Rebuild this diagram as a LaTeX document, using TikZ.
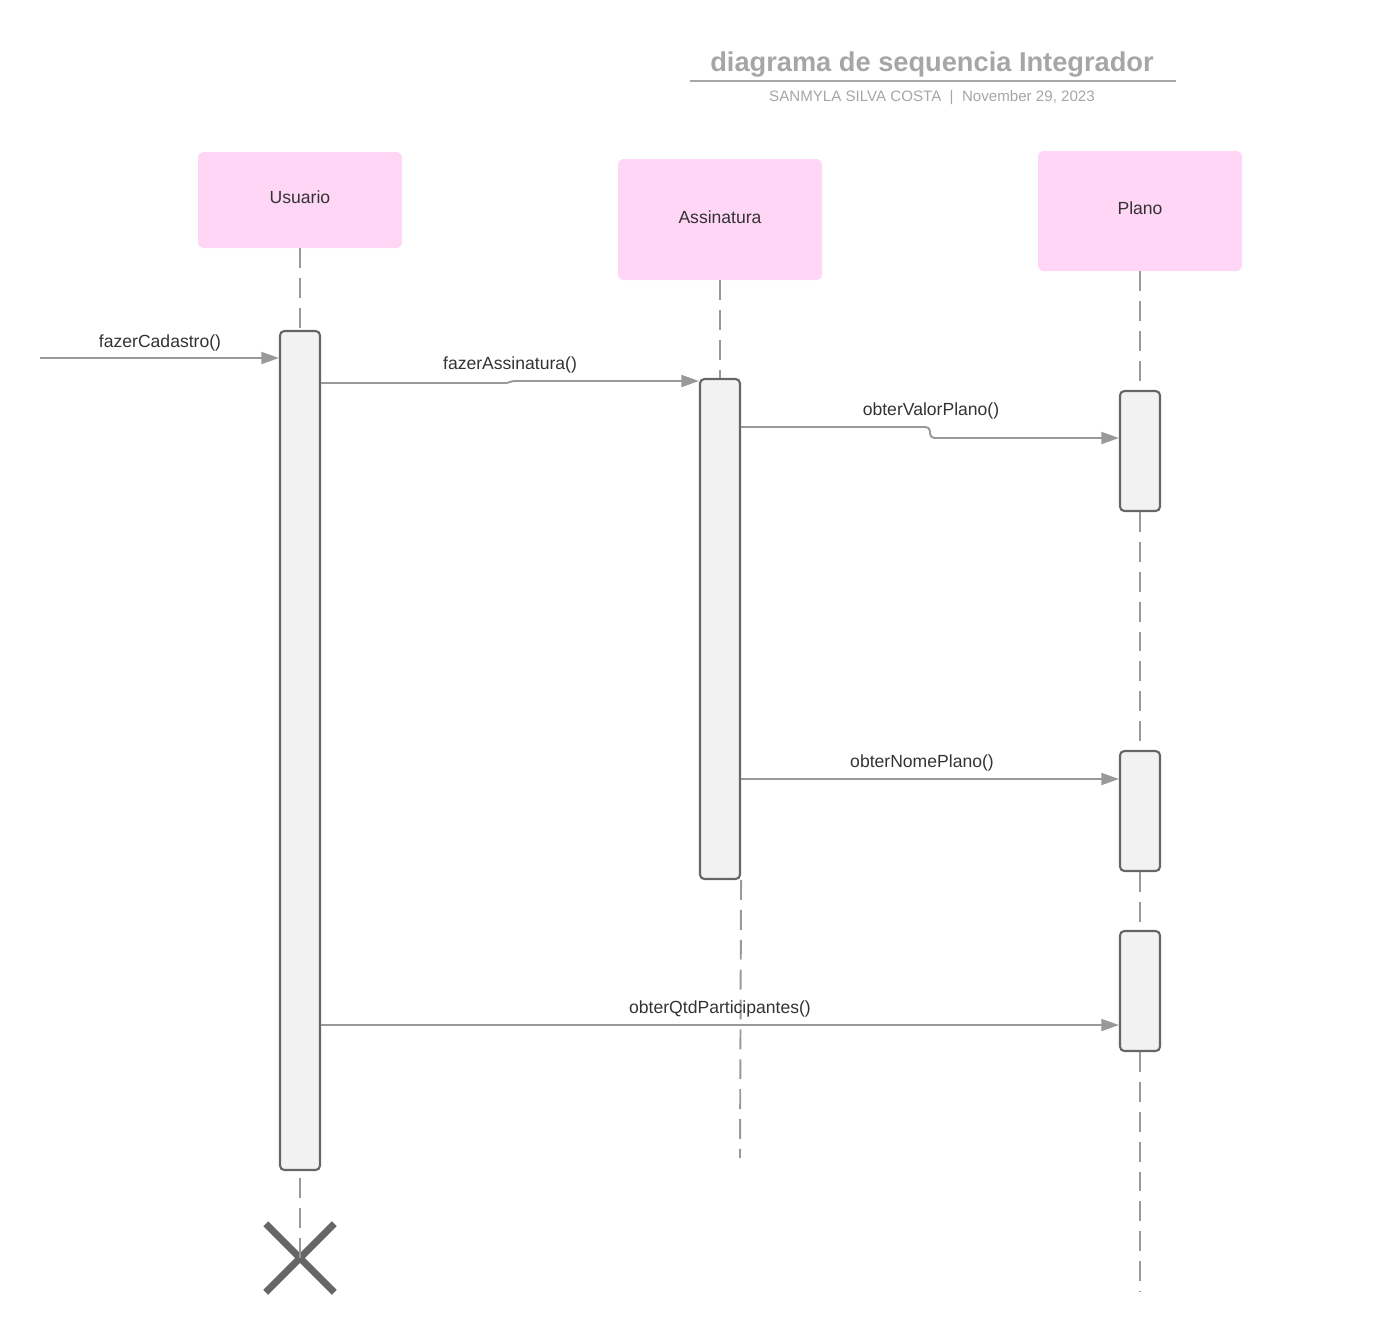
\documentclass[tikz,border=0pt]{standalone}
\usepackage{fontspec}
\setmainfont{Liberation Sans}
\usetikzlibrary{arrows.meta,fit,shapes.misc}
\definecolor{headpink}{RGB}{255,214,245}
\definecolor{actfill}{RGB}{242,242,242}
\definecolor{actline}{RGB}{102,102,102}
\definecolor{msgline}{RGB}{153,153,153}
\definecolor{titlegray}{RGB}{166,166,166}
\definecolor{txt}{RGB}{51,51,51}
\tikzset{
  head/.style={fill=headpink, rounded corners=3pt, inner sep=0pt, text=txt, font=\fontsize{10}{12}\selectfont},
  act/.style={draw=actline, fill=actfill, line width=1.2pt, rounded corners=2.5pt, inner sep=0pt},
  life/.style={draw=msgline, line width=1.1pt, dash pattern=on 11.3pt off 5.7pt},
  msg/.style={draw=msgline, line width=1.1pt, -{Triangle[length=10pt,width=6.8pt]}},
  lbl/.style={text=txt, font=\fontsize{10}{12}\selectfont, inner sep=0pt},
  destroy/.style={cross out, draw=actline, line width=4pt, minimum size=35pt, inner sep=0pt},
}
\begin{document}
\begin{tikzpicture}[x=0.02cm, y=-0.02cm]
\useasboundingbox (0,0) rectangle (1396,1339);

% title block
\node[text=titlegray, font=\bfseries\fontsize{15.5}{18}\selectfont] (title) at (932,65) {diagrama de sequencia Integrador};
\coordinate (rulel) at (690,81);
\coordinate (ruler) at (1176,81);
\draw[titlegray, line width=1.1pt] (rulel) -- (ruler);
\node[text=titlegray, font=\fontsize{8.6}{10}\selectfont] (sub) at (932,98) {SANMYLA SILVA COSTA \;|\; November 29, 2023};

% participants
\node[head, fit={(198,152) (402,248)}] (u) {};
\node[lbl] at ([yshift=1.5pt]u.center) {Usuario};
\node[head, fit={(618,159) (822,280)}] (a) {};
\node[lbl] at ([yshift=1.5pt]a.center) {Assinatura};
\node[head, fit={(1038,151) (1242,271)}] (p) {};
\node[lbl] at ([yshift=1.5pt]p.center) {Plano};

% activation bars
\node[act, fit={(280,331) (320,1170)}] (ua) {};
\node[act, fit={(700,379) (740,879)}] (aa) {};
\node[act, fit={(1120,391) (1160,511)}] (p1) {};
\node[act, fit={(1120,751) (1160,871)}] (p2) {};
\node[act, fit={(1120,931) (1160,1051)}] (p3) {};

% lifeline ends
\coordinate (aend) at (740,1158);
\coordinate (pend) at (1140,1292);
\node[destroy] (ux) at (300,1258) {};

% lifelines
\draw[life] (u.south) -- (ua.north);
\draw[life] ([yshift=-4pt]ua.south) -- (ux.center);
\draw[life] (a.south) -- (aa.north);
\draw[life] (aa.south east) -- (aend);
\draw[life] (p.south) -- (p1.north);
\draw[life] (p1.south) -- (p2.north);
\draw[life] (p2.south) -- (p3.north);
\draw[life] (p3.south) -- (pend);

% messages
\coordinate (start) at (40,358);
\draw[msg] (start) -- (ua.west |- start);
\node[lbl] at (160,343) {fazerCadastro()};

\draw[msg, rounded corners=1.5pt] (ua.east |- 0,383) -- (508,383) -- (512,381) -- (aa.west |- 0,381);
\node[lbl] at (510,365) {fazerAssinatura()};

\draw[msg, rounded corners=2.5pt] (aa.east |- 0,427) -- (930,427) -- (930,438) -- (p1.west |- 0,438);
\node[lbl] at (931,411) {obterValorPlano()};

\draw[msg] (aa.east |- 0,779) -- (p2.west |- 0,779);
\node[lbl] at (922,763) {obterNomePlano()};

\draw[msg] (ua.east |- 0,1025) -- (p3.west |- 0,1025);
\node[lbl] at (720,1009) {obterQtdParticipantes()};
\end{tikzpicture}
\end{document}
